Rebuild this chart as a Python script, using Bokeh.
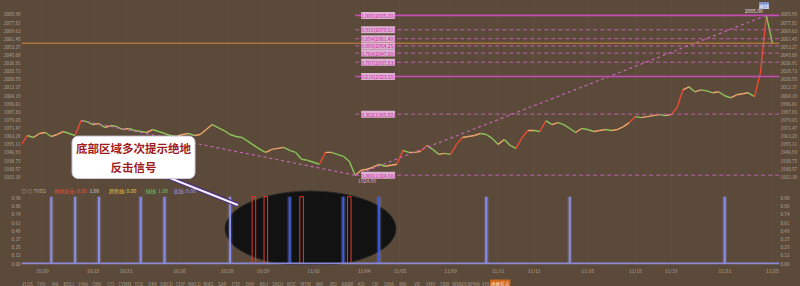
import numpy as np
from bokeh.plotting import figure
from bokeh.models import Range1d, LinearAxis, FixedTicker, Label, Span
from bokeh.layouts import column
from bokeh.embed import file_html
from bokeh.resources import INLINE
from bokeh.core.properties import value

BG = "#5b4a39"
FONT = "Noto Sans CJK SC"

# ---------------- data ----------------
close = [1955, 1964, 1962, 1966, 1967, 1963, 1965, 1968, 1966, 1964,
         1979, 1978, 1975, 1976, 1972, 1974, 1973, 1970, 1971, 1969,
         1968, 1967, 1970, 1968, 1966, 1964, 1963, 1965, 1966, 1964,
         1965, 1970, 1975, 1972, 1969, 1965, 1963, 1962, 1958, 1954,
         1950, 1947, 1950, 1951, 1952, 1949, 1947, 1940, 1939, 1937,
         1935, 1947, 1947, 1945, 1943, 1938, 1924, 1929, 1930, 1932,
         1935, 1933, 1934, 1935, 1949, 1947, 1947, 1948, 1954, 1950,
         1945, 1946, 1945, 1955, 1962, 1963, 1964, 1966, 1965, 1961,
         1955, 1960, 1954, 1951, 1962, 1969, 1969, 1968, 1979, 1975,
         1977, 1975, 1971, 1967, 1971, 1970, 1968, 1969, 1970, 1969,
         1970, 1973, 1977, 1983, 1982, 1983, 1984, 1985, 1984, 1985,
         1992, 2010, 2013, 2008, 2010, 2009, 2007, 2008, 2004, 2002,
         2005, 2006, 2007, 2003, 2027, 2085, 2057]

blue_signal_bars = [5, 9, 13, 20, 24, 35, 45, 54, 60, 78, 92, 118]
red_signal_bars = [39, 41, 47, 55]

fib_ratios = [0.0, 0.382, 0.618, 0.707, 0.764, 0.809, 0.854, 0.910, 1.0]
fib_solid = [False, False, True, False, False, False, False, False, True]

price_ticks = [2085.99, 2077.81, 2069.63, 2061.45, 2053.27, 2045.09, 2036.91,
               2028.73, 2020.55, 2012.37, 2004.19, 1996.01, 1987.83, 1979.65,
               1971.47, 1963.29, 1955.11, 1946.93, 1938.75, 1930.57, 1922.39]
ind_ticks = [0.00, 0.12, 0.25, 0.37, 0.49, 0.61, 0.74, 0.86, 0.98]

date_pos = [3.5, 12, 17.5, 26.5, 34.5, 40.5, 49, 57.5, 63.5, 72, 80, 86, 95, 103, 109, 118, 126]
date_labels = ["10/20", "10/22", "10/23", "10/26", "10/28", "10/29", "11/02", "11/04",
               "11/05", "11/09", "11/11", "11/12", "11/16", "11/18", "11/19", "11/23", "11/25"]

legend_text = ["◎ ◎ TVDS", "绝地反击: 0.00", "1.00", "趋势线: 0.00", "绿线: 1.00", "蓝线: 0.00"]
legend_colors = ["#b8ac9c", "#e8503c", "#d8d0c4", "#e6c24a", "#6cc46c", "#9a96e8"]
legend_x = [0, 5.5, 11.4, 14.7, 20.8, 25.5]

tabs = ["ZLDS", "TVD", "MA", "BOLL", "EMA", "OBV", "CCI", "CYMM", "TCR", "DKX", "DBCD",
        "CDP", "MACD", "BIAS", "SAR", "PSY", "DMI", "KDJ", "SKDJ", "ROC", "MTM", "WR",
        "RSI", "ARBR", "ASI", "CR", "DMA", "BBI", "VR", "EMV", "TRIX", "WVAD", "EXPMA",
        "VOL", "绝地反击"]

callout_text = "底部区域多次提示绝地\n反击信号"

# ---------------- scales ----------------
n = len(close)
idx = list(range(n))
Y0, Y1 = 1834.0, 2100.0
IND_BASE = 1835.0          # primary coordinate of indicator 0
IND_SCALE = 67.35          # primary units per indicator unit
X1 = 127.2
xr = Range1d(0, X1)

def ind_to_primary(v):
    return round(IND_BASE + v * IND_SCALE, 2)

p = figure(width=800, height=276, x_range=xr, y_range=Range1d(Y0, Y1),
           toolbar_location=None, output_backend="svg",
           background_fill_color=BG, border_fill_color=BG, outline_line_color=None,
           min_border_left=0, min_border_right=0, min_border_top=0, min_border_bottom=10)
p.extra_y_ranges = {"ind": Range1d((Y0 - IND_BASE) / IND_SCALE, (Y1 - IND_BASE) / IND_SCALE)}

# axes
all_ticks = price_ticks + [ind_to_primary(v) for v in ind_ticks]
overrides = {t: f"{t:.2f}" for t in price_ticks}
overrides.update({ind_to_primary(v): f"{v:.2f}" for v in ind_ticks})

def style_y(ax):
    ax.ticker = FixedTicker(ticks=all_ticks)
    ax.major_label_overrides = overrides
    ax.major_label_text_font_size = "4.6px"
    ax.major_label_text_color = "#b5a898"
    ax.major_label_text_font = FONT
    ax.axis_line_color = None
    ax.major_tick_line_color = None
    ax.minor_tick_line_color = None
    ax.major_tick_out = 0
    ax.major_tick_in = 0
    ax.major_label_standoff = 1

style_y(p.yaxis[0])
rax = LinearAxis()
style_y(rax)
p.add_layout(rax, "right")

xa = p.xaxis[0]
xa.ticker = FixedTicker(ticks=date_pos)
xa.major_label_overrides = {k: v for k, v in zip(date_pos, date_labels)}
xa.major_label_text_font_size = "4.8px"
xa.major_label_text_color = "#b5a898"
xa.major_label_text_font = FONT
xa.axis_line_color = None
xa.major_tick_line_color = None
xa.minor_tick_line_color = None
xa.major_tick_out = 0
xa.major_label_standoff = 2

p.ygrid.visible = False
p.xgrid.ticker = FixedTicker(ticks=date_pos)
p.xgrid.grid_line_color = "#6e5d4b"
p.xgrid.grid_line_alpha = 0.3

# ---------------- annotation ellipse (under indicator) ----------------
ell_x, ell_w = 48.5, 28.7
p.ellipse(x=[ell_x], y=[1870], width=[ell_w], height=[76],
          fill_color="#121212", line_color="#2a2a2a", line_width=1)

# indicator baseline
p.add_layout(Span(location=IND_BASE, dimension="width", line_color="#8a8ad8", line_width=2))

blue_vals = [1.0] * len(blue_signal_bars)
inside = [abs(b - ell_x) < ell_w / 2 - 2 for b in blue_signal_bars]
blue_cols = ["#3a5cf0" if ins else "#8c90ea" for ins in inside]
p.vbar(x=blue_signal_bars, top=blue_vals, bottom=0, width=0.8, y_range_name="ind",
       fill_color="#9a9cf0", fill_alpha=0.22, line_color=None)
p.vbar(x=blue_signal_bars, top=blue_vals, bottom=0, width=0.32, y_range_name="ind",
       fill_color=blue_cols, line_color=None)

red_vals = [1.0] * len(red_signal_bars)
p.vbar(x=red_signal_bars, top=red_vals, bottom=0, width=0.6, y_range_name="ind",
       fill_alpha=0, line_color="#e8392c", line_width=1)

# ---------------- price line ----------------
cols = []
for a, b in zip(close[:-1], close[1:]):
    d = b - a
    if d >= 6:
        cols.append("#ec4a32")
    elif d >= 0:
        cols.append("#f0a66c")
    else:
        cols.append("#8cc45c")
p.segment(x0=idx[:-1], y0=close[:-1], x1=idx[1:], y1=close[1:], line_color=cols, line_width=1.4)

last = close[-1]
p.add_layout(Span(location=last, dimension="width", line_color="#d8843a", line_width=1))

# swing points
lo_i = int(np.argmin(close))
hi_i = int(np.argmax(close))
pk_i = int(np.argmax(close[:lo_i]))
lo, hi = close[lo_i], close[hi_i]

p.line([pk_i, lo_i], [close[pk_i], lo], line_color="#c466b4", line_width=1.2, line_dash="3 3")
p.line([lo_i, hi_i], [lo, hi], line_color="#c466b4", line_width=1.2, line_dash="3 3")

# fib lines
for r, solid in zip(fib_ratios, fib_solid):
    lvl = lo + r * (hi - lo)
    p.segment(x0=[lo_i], y0=[lvl], x1=[X1], y1=[lvl],
              line_color="#c84bb8" if solid else "#c060b0",
              line_width=1.6 if solid else 1.0,
              line_dash="solid" if solid else "4 3")
    p.add_layout(Label(x=lo_i + 1, y=lvl, text=f"{r:.3f}({lvl:.2f})",
                       text_font_size="5px", text_font=FONT, text_color="#c8259e",
                       text_baseline="middle", text_align="left",
                       background_fill_color="#f3c2ec", background_fill_alpha=0.85))

p.add_layout(Label(x=hi_i - 0.6, y=hi + 2, text=f"{hi:.2f}", text_font_size="5px",
                   text_font=FONT, text_color="#eadfe6", text_align="right",
                   text_baseline="bottom"))
p.add_layout(Label(x=lo_i + 2, y=lo - 4, text=f"{lo:.2f}", text_font_size="5px",
                   text_font=FONT, text_color="#e2a8da", text_align="center",
                   text_baseline="top"))

# top-right button
p.add_layout(Label(x=124.6, y=2095, text="画线", text_font_size="5px", text_font=FONT,
                   text_color="#ffffff", text_align="center", text_baseline="middle",
                   background_fill_color="#8090c8"))

# indicator legend row
leg_y = ind_to_primary(1.09)
for t, c, xx in zip(legend_text, legend_colors, legend_x):
    p.add_layout(Label(x=xx, y=leg_y, text=t, text_font_size="5px", text_font=FONT,
                       text_color=c, text_align="left", text_baseline="middle"))

# callout pointer + box
p.segment(x0=[23.3], y0=[1925], x1=[36.3], y1=[1894], line_color="#4a2f78", line_width=4.5)
p.segment(x0=[23.3], y0=[1925], x1=[36.3], y1=[1894], line_color="#f2ecff", line_width=2.2)
p.add_layout(Label(x=18.8, y=1942, text=callout_text, text_font=FONT, text_font_size="11.5px",
                   text_font_style="bold", text_color="#a01c1c", text_align="center",
                   text_baseline="middle", text_line_height=1.15,
                   background_fill_color="#ffffff", border_line_color="#cfc8dc",
                   border_line_width=1, padding=4, border_radius=6))

# ---------------- tab row ----------------
tp = figure(width=800, height=10, x_range=xr, y_range=Range1d(-1, 1),
            toolbar_location=None, output_backend="svg",
            background_fill_color=BG, border_fill_color=BG, outline_line_color=None,
            min_border_left=0, min_border_right=0, min_border_top=0, min_border_bottom=0)
tp.xaxis.visible = False
tp.yaxis.visible = False
tp.xgrid.visible = False
tp.ygrid.visible = False
tab_x = [(6 + 14.0 * k) / 6.0 for k in range(len(tabs))]
tp.rect(x=[tab_x[-1]], y=[0], width=3.4, height=1.6, fill_color="#d2691e", line_color=None)
tab_cols = ["#a89c8c"] * (len(tabs) - 1) + ["#fff2e0"]
tp.text(x=tab_x, y=[0] * len(tabs), text=tabs, text_font_size="4.6px", text_font=value(FONT),
        text_align="center", text_baseline="middle", text_color=tab_cols)

layout = column(p, tp, spacing=0)
layout.styles = {"background-color": BG}
open("out.html", "w").write(file_html(layout, INLINE))
